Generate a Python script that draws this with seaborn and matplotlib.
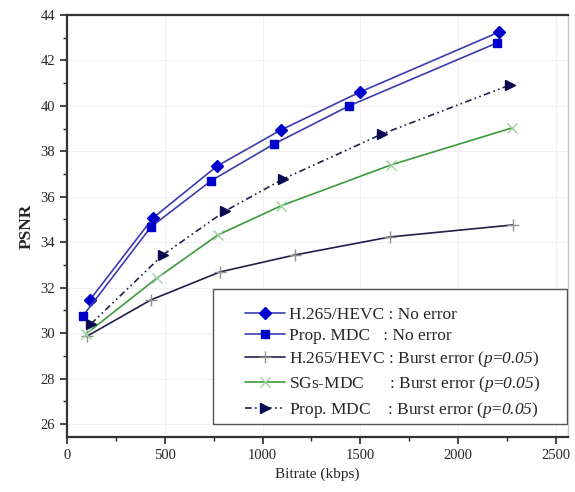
import pandas as pd
import matplotlib.pyplot as plt
import seaborn as sns
from matplotlib.patches import Rectangle

# Values
hevc_x = [117, 440, 767, 1094, 1498, 2209]
hevc_y = [31.46, 35.07, 37.35, 38.94, 40.61, 43.25]

mdc_x = [81, 429, 736, 1058, 1442, 2198]
mdc_y = [30.75, 34.67, 36.70, 38.32, 40.00, 42.77]

hevc_burst_x = [100, 429, 782, 1166, 1651, 2280]
hevc_burst_y = [29.85, 31.46, 32.69, 33.44, 34.23, 34.76]

sgs_burst_x = [97, 460, 772, 1094, 1656, 2275]
sgs_burst_y = [29.96, 32.42, 34.32, 35.60, 37.40, 39.03]

mdc_burst_x = [122, 490, 808, 1105, 1610, 2265]
mdc_burst_y = [30.40, 33.44, 35.37, 36.78, 38.76, 40.92]

labels = [
    "H.265/HEVC : No error",
    "Prop. MDC   : No error",
    "H.265/HEVC : Burst error ($p$=$0.05$)",
    "SGs-MDC      : Burst error ($p$=$0.05$)",
    "Prop. MDC    : Burst error ($p$=$0.05$)",
]

sns.set_style("white")
plt.rcParams['font.family'] = ['Liberation Serif', 'DejaVu Serif']
# math text only used for the italic "p=0.05" parts
plt.rcParams['mathtext.fontset'] = 'custom'
plt.rcParams['mathtext.rm'] = 'Liberation Serif:italic'
plt.rcParams['mathtext.it'] = 'Liberation Serif:italic'

frames = []
for lab, xs, ys in zip(labels,
                       [hevc_x, mdc_x, hevc_burst_x, sgs_burst_x, mdc_burst_x],
                       [hevc_y, mdc_y, hevc_burst_y, sgs_burst_y, mdc_burst_y]):
    frames.append(pd.DataFrame({'bitrate': xs, 'psnr': ys, 'series': lab}))
data = pd.concat(frames, ignore_index=True)

styles = {
    labels[0]: dict(color='#3b3bb0', marker='D', mfc='#0000cc', mec='#0000cc', ms=6, ls='-'),
    labels[1]: dict(color='#3b3bb0', marker='s', mfc='#0000cc', mec='#0000cc', ms=6, ls='-'),
    labels[2]: dict(color='#20204a', marker='+', mfc='#909090', mec='#909090', ms=9, ls='-'),
    labels[3]: dict(color='#3c9a3c', marker='x', mfc='#9fd09f', mec='#9fd09f', ms=7, ls='-'),
    labels[4]: dict(color='#20204a', marker='>', mfc='#0a0a50', mec='#0a0a50', ms=7, ls=(0, (4, 2, 1, 2, 1, 2))),
}

fig = plt.figure(figsize=(5.75, 4.92), dpi=100)
ax = fig.add_axes([0.1165, 0.112, 0.8715, 0.8575])

for lab in labels:
    st = styles[lab]
    sub = data[data['series'] == lab]
    sns.lineplot(x='bitrate', y='psnr', data=sub, ax=ax, label=lab,
                 color=st['color'], marker=st['marker'], markersize=st['ms'],
                 markerfacecolor=st['mfc'], markeredgecolor=st['mec'],
                 markeredgewidth=1.0, linestyle=st['ls'], linewidth=1.2)

ax.set_xlim(0, 2562)
ax.set_ylim(25.43, 44)
ax.set_xticks([0, 500, 1000, 1500, 2000, 2500])
ax.set_xticks([250, 750, 1250, 1750, 2250], minor=True)
ax.set_yticks([26, 28, 30, 32, 34, 36, 38, 40, 42, 44])
ax.set_yticks([27, 29, 31, 33, 35, 37, 39, 41, 43], minor=True)
ax.grid(True, which='major', color='#f0f0f0', linewidth=0.8)
ax.tick_params(axis='both', which='major', direction='out', length=5, width=1.2,
               labelsize=10.5, bottom=True, left=True)
ax.tick_params(axis='both', which='minor', direction='out', length=3, width=1.0,
               bottom=True, left=True)

for side in ['left', 'bottom', 'top']:
    ax.spines[side].set_color('#333333')
    ax.spines[side].set_linewidth(1.6)
ax.spines['right'].set_color('#c8c8c8')
ax.spines['right'].set_linewidth(1.0)

ax.set_xlabel('Bitrate (kbps)', fontsize=11)
ax.set_ylabel('PSNR', fontsize=12.5, fontweight='bold')

# legend box drawn separately so the entries can sit inset like the original
ax.add_patch(Rectangle((0.291, 0.031), 0.707, 0.32, transform=ax.transAxes,
                       facecolor='white', edgecolor='#555555', linewidth=1.0, zorder=4))
leg = ax.legend(loc='upper left', bbox_to_anchor=(0.355, 0.309), fontsize=12.5,
                frameon=False, handlelength=2.3, handletextpad=0.25,
                borderpad=0, borderaxespad=0, labelspacing=0.3)
leg.set_zorder(5)

plt.savefig('out.png', dpi=100)
